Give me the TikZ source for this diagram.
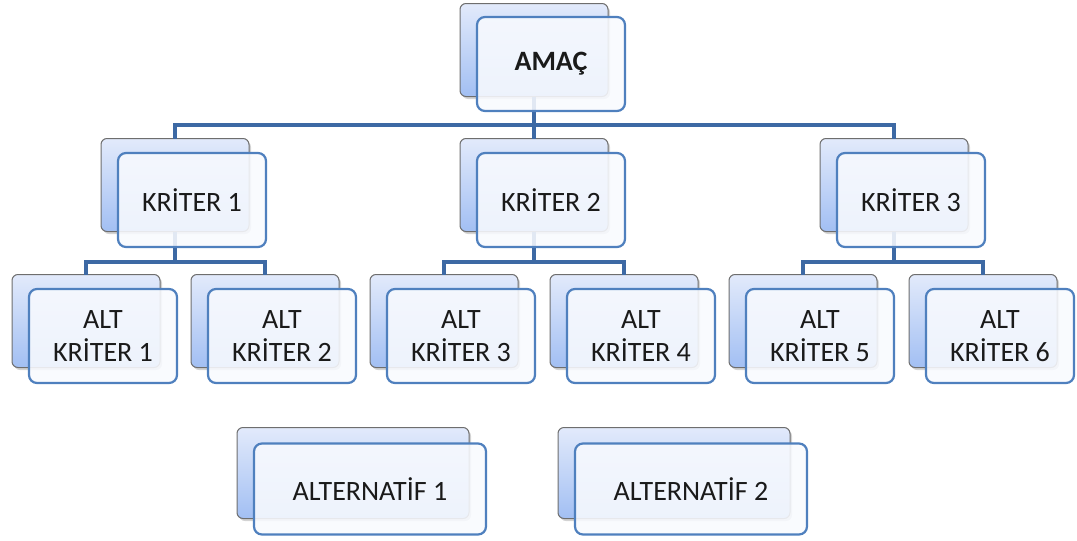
\documentclass[tikz,border=0pt]{standalone}
\usepackage{fontspec}
\setmainfont{Carlito}
\usetikzlibrary{shadows}
\definecolor{backtop}{HTML}{E2EAFB}
\definecolor{backbot}{HTML}{A2BFF3}
\definecolor{backline}{HTML}{6E6E6E}
\definecolor{frontfill}{HTML}{F8FAFE}
\definecolor{frontline}{HTML}{4F80BE}
\definecolor{connc}{HTML}{3D69A4}
\definecolor{txt}{HTML}{1A1A1A}
\tikzset{
  backbox/.style={rectangle, rounded corners=6pt, draw=backline, line width=1pt,
    top color=backtop, bottom color=backbot, minimum width=148pt, minimum height=93pt,
    inner sep=0pt, outer sep=0pt,
    drop shadow={shadow xshift=2pt, shadow yshift=-2.5pt, opacity=0.35}},
  frontbox/.style={rectangle, rounded corners=8pt, draw=frontline, line width=2.2pt,
    fill=frontfill, fill opacity=0.88, text opacity=1, text=txt,
    minimum width=148pt, minimum height=94pt, inner sep=0pt, outer sep=0pt,
    align=center, font=\fontsize{28}{33}\selectfont},
  conn/.style={draw=connc, line width=4pt}
}
\begin{document}
\begin{tikzpicture}[x=1pt,y=-1pt]
\useasboundingbox (0,0) rectangle (1077,541);
% back boxes
\node[backbox] (gB)  at (534,50) {};
\node[backbox] (k1B) at (175,185) {};
\node[backbox] (k2B) at (534,185) {};
\node[backbox] (k3B) at (894,185) {};
\node[backbox] (s1B) at (86,321) {};
\node[backbox] (s2B) at (265,321) {};
\node[backbox] (s3B) at (444,321) {};
\node[backbox] (s4B) at (624,321) {};
\node[backbox] (s5B) at (803,321) {};
\node[backbox] (s6B) at (983,321) {};
\node[backbox, minimum width=232pt, minimum height=91pt] (a1B) at (353,473) {};
\node[backbox, minimum width=232pt, minimum height=91pt] (a2B) at (674,473) {};
% buses
\coordinate (bus1) at (0,125);
\coordinate (bus2) at (0,262);
% connectors
\draw[conn] (gB.south) -- (gB.south|-bus1) -| (k1B.north);
\draw[conn] (gB.south|-bus1) -| (k3B.north);
\draw[conn] (gB.south|-bus1) -- (k2B.north);
\draw[conn] (k1B.south) -- (k1B.south|-bus2) -| (s1B.north);
\draw[conn] (k1B.south|-bus2) -| (s2B.north);
\draw[conn] (k2B.south) -- (k2B.south|-bus2) -| (s3B.north);
\draw[conn] (k2B.south|-bus2) -| (s4B.north);
\draw[conn] (k3B.south) -- (k3B.south|-bus2) -| (s5B.north);
\draw[conn] (k3B.south|-bus2) -| (s6B.north);
% front boxes
\node[frontbox] (gF)  at (551,64) {\bfseries AMAÇ};
\node[frontbox] (k1F) at (192,200) {KRİTER 1};
\node[frontbox] (k2F) at (551,200) {KRİTER 2};
\node[frontbox] (k3F) at (911,200) {KRİTER 3};
\node[frontbox] (s1F) at (103,336) {ALT\\KRİTER 1};
\node[frontbox] (s2F) at (282,336) {ALT\\KRİTER 2};
\node[frontbox] (s3F) at (461,336) {ALT\\KRİTER 3};
\node[frontbox] (s4F) at (641,336) {ALT\\KRİTER 4};
\node[frontbox] (s5F) at (820,336) {ALT\\KRİTER 5};
\node[frontbox] (s6F) at (1000,336) {ALT\\KRİTER 6};
\node[frontbox, minimum width=232pt, minimum height=91pt] (a1F) at (370,489) {ALTERNATİF 1};
\node[frontbox, minimum width=232pt, minimum height=91pt] (a2F) at (691,489) {ALTERNATİF 2};
\end{tikzpicture}
\end{document}
